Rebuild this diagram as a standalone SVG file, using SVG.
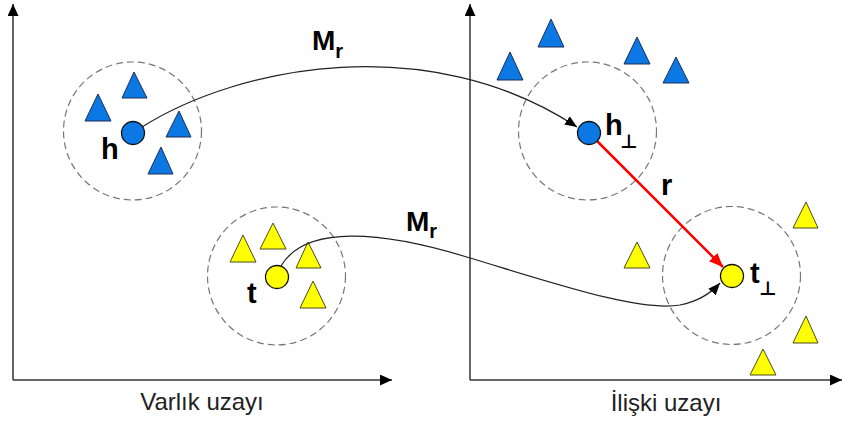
<svg xmlns="http://www.w3.org/2000/svg" width="843" height="425" viewBox="0 0 843 425">
<style>
.axis{stroke:#333;stroke-width:1.5;fill:none}
.region{fill:none;stroke:#777;stroke-width:1.2;stroke-dasharray:7 4}
.blue{fill:#0b78e3;stroke:#1b2f55;stroke-width:1}
.yel{fill:#ffff00;stroke:#4a4a20;stroke-width:1}
.node{stroke:#111;stroke-width:1.3}
.lbl{font-family:"Liberation Sans",Arial,sans-serif;font-weight:bold;fill:#000}
.sub{font-family:"DejaVu Sans","Liberation Sans",sans-serif;font-weight:bold;fill:#000}
.cap{font-family:"Liberation Sans",Arial,sans-serif;font-size:24px;fill:#222;text-anchor:middle}
.conn{fill:none;stroke:#222;stroke-width:1.2}
.rel{fill:none;stroke:#ff0000;stroke-width:2.5}
</style>
<defs>
<marker id="ah" markerUnits="userSpaceOnUse" markerWidth="14" markerHeight="12" refX="12" refY="5" orient="auto">
<path d="M0,0 L12,5 L0,10 z" fill="#000"/>
</marker>
<marker id="ahr" markerUnits="userSpaceOnUse" markerWidth="16" markerHeight="14" refX="14" refY="6" orient="auto">
<path d="M0,0 L14,6 L0,12 z" fill="#ff0000"/>
</marker>
<marker id="ax" markerUnits="userSpaceOnUse" markerWidth="14" markerHeight="12" refX="12" refY="5.5" orient="auto">
<path d="M0,0 L12,5.5 L0,11 z" fill="#000"/>
</marker>
</defs>

<g id="axes">
<path class="axis" d="M13,380 L13,4" marker-end="url(#ax)"/>
<path class="axis" d="M13,380 L392,380" marker-end="url(#ax)"/>
<path class="axis" d="M470,380 L470,4" marker-end="url(#ax)"/>
<path class="axis" d="M470,380 L842,380" marker-end="url(#ax)"/>
</g>

<g id="regions">
<circle class="region" cx="132.5" cy="131" r="69"/>
<circle class="region" cx="276.5" cy="276" r="69"/>
<circle class="region" cx="587.5" cy="131" r="69"/>
<circle class="region" cx="731.5" cy="275.5" r="69"/>
</g>

<g id="blue-triangles">
<polygon class="blue" points="134,72 147,98 122,98"/>
<polygon class="blue" points="98,94 111,121 85,121"/>
<polygon class="blue" points="179,111 191,137 166,137"/>
<polygon class="blue" points="161,147 173,174 148,174"/>
<polygon class="blue" points="551,19 564,47 538,47"/>
<polygon class="blue" points="510,52 523,80 497,80"/>
<polygon class="blue" points="637,37 650,64 624,64"/>
<polygon class="blue" points="676,57 689,83 663,83"/>
</g>

<g id="yellow-triangles">
<polygon class="yel" points="243,235 256,262 230,262"/>
<polygon class="yel" points="273,223 286,249 260,249"/>
<polygon class="yel" points="308,242 321,268 296,268"/>
<polygon class="yel" points="313,281 326,308 300,308"/>
<polygon class="yel" points="806,202 818,228 793,228"/>
<polygon class="yel" points="637,242 650,268 624,268"/>
<polygon class="yel" points="806,316 818,343 793,343"/>
<polygon class="yel" points="763,349 776,375 750,375"/>
</g>

<g id="connectors">
<path id="map-h" class="conn" d="M142,127 C240,65 430,30 577,127" marker-end="url(#ah)"/>
<path id="map-t" class="conn" d="M281,266 C305,225 380,230 470,258 C560,285 640,312 680,305 C700,301 712,292 720,283" marker-end="url(#ah)"/>
<path id="rel-r" class="rel" d="M589,133 L723,267" marker-end="url(#ahr)"/>
</g>

<g id="node-h">
<circle class="node" cx="133" cy="133" r="11.5" fill="#0b78e3"/>
<text class="lbl" x="101" y="159" font-size="29">h</text>
</g>
<g id="node-t">
<circle class="node" cx="277" cy="277" r="11.5" fill="#ffff00"/>
<text class="lbl" x="247" y="303" font-size="29">t</text>
</g>
<g id="node-hp">
<circle class="node" cx="589" cy="133" r="11.5" fill="#0b78e3"/>
<text class="lbl" x="605" y="135" font-size="29">h</text>
<text class="sub" x="620" y="148" font-size="19">⊥</text>
</g>
<g id="node-tp">
<circle class="node" cx="732" cy="276" r="11.5" fill="#ffff00"/>
<text class="lbl" x="750" y="283" font-size="29">t</text>
<text class="sub" x="759" y="295" font-size="19">⊥</text>
</g>

<g id="labels">
<text class="lbl" x="312" y="50" font-size="28">M<tspan font-size="20" dy="8">r</tspan></text>
<text class="lbl" x="406" y="231" font-size="28">M<tspan font-size="20" dy="7">r</tspan></text>
<text class="lbl" x="661" y="195" font-size="29">r</text>
<text class="cap" x="202" y="410">Varlık uzayı</text>
<text class="cap" x="666" y="411">İlişki uzayı</text>
</g>
</svg>
